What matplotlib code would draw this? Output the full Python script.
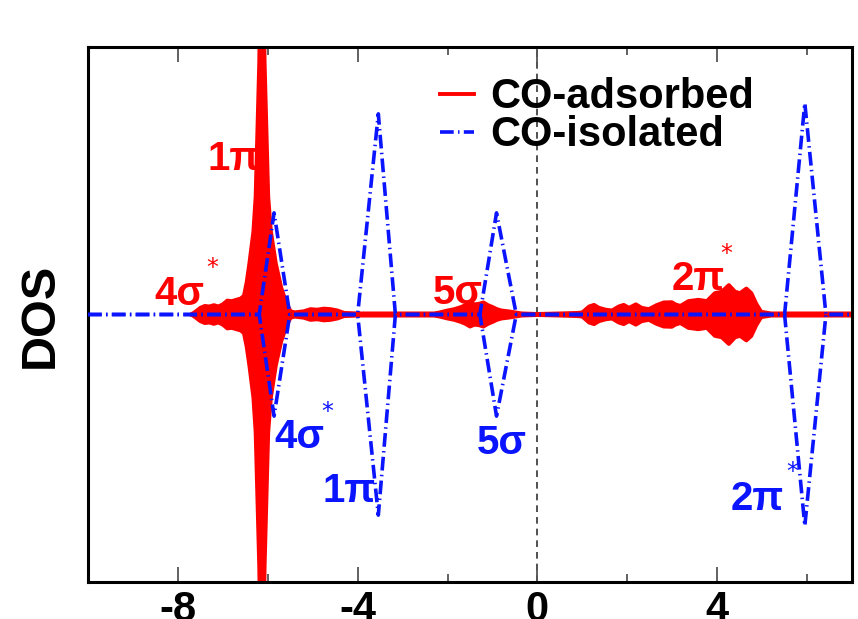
import matplotlib
matplotlib.use("Agg")
import matplotlib.pyplot as plt
import numpy as np

plt.rcParams["font.family"] = ["Liberation Sans", "DejaVu Sans"]
plt.rcParams["font.weight"] = "bold"
plt.rcParams["axes.unicode_minus"] = False

# CO adsorbed: projected DOS (spin up drawn above, spin down mirrored below)
e_ads = [-7.70, -7.60, -7.50, -7.40, -7.30, -7.20, -7.10, -7.00, -6.90,
         -6.80, -6.70, -6.60, -6.53, -6.47, -6.41, -6.32, -6.27, -6.23, -6.19,
         -6.13, -6.07, -6.03, -5.99, -5.93, -5.82, -5.70, -5.62, -5.55, -5.49,
         -5.40, -5.20, -5.05, -4.90, -4.75, -4.60, -4.45, -4.30, -4.00, -2.30,
         -2.17, -2.00, -1.85, -1.70, -1.60, -1.50, -1.40, -1.30, -1.20, -1.10,
         -1.00, -0.90, -0.80, -0.65, -0.50, -0.35, 0.00, 0.50, 0.90, 1.00,
         1.15, 1.26, 1.37, 1.52, 1.66, 1.81, 1.92, 2.04, 2.19, 2.32,
         2.48, 2.65, 2.81, 2.99, 3.07, 3.18, 3.36, 3.58, 3.77, 3.95,
         4.10, 4.26, 4.40, 4.51, 4.65, 4.76, 4.87, 4.98, 5.20, 7.00]
dos_ads = [0.000, 0.012, 0.025, 0.032, 0.030, 0.035, 0.030, 0.038, 0.052,
           0.050, 0.055, 0.060, 0.070, 0.120, 0.190, 0.310, 0.440, 0.690, 0.940,
           1.600, 0.940, 0.690, 0.440, 0.310, 0.190, 0.100, 0.060, 0.030, 0.012,
           0.008, 0.012, 0.020, 0.018, 0.022, 0.020, 0.015, 0.006, 0.004, 0.004,
           0.008, 0.015, 0.020, 0.028, 0.035, 0.045, 0.038, 0.040, 0.045, 0.035,
           0.028, 0.020, 0.015, 0.012, 0.008, 0.004, 0.002, 0.004, 0.006, 0.008,
           0.030, 0.036, 0.025, 0.018, 0.015, 0.030, 0.036, 0.025, 0.038, 0.025,
           0.020, 0.035, 0.045, 0.046, 0.038, 0.032, 0.050, 0.055, 0.050, 0.080,
           0.085, 0.110, 0.085, 0.080, 0.097, 0.080, 0.040, 0.010, 0.004, 0.004]

# CO isolated: molecular levels on a coarse energy grid
e_iso = [-10.0, -6.19, -5.86, -5.51, -4.00, -3.54, -3.16,
         -1.28, -0.91, -0.47, 5.50, 5.95, 6.42, 7.00]
dos_iso = [0.0, 0.0, 0.38, 0.0, 0.0, 0.75, 0.0,
           0.0, 0.38, 0.0, 0.0, 0.79, 0.0, 0.0]

# orbital labels: (text, x, y, star position or None)
labels_ads = [("1π", -7.35, 0.54, None),
              ("4σ", -8.52, 0.034, (-7.24, 0.172)),
              ("5σ", -2.32, 0.041, None),
              ("2π", 2.99, 0.09, (4.21, 0.228))]
labels_iso = [("4σ", -5.86, -0.50, (-4.68, -0.366)),
              ("1π", -4.78, -0.70, None),
              ("5σ", -1.35, -0.52, None),
              ("2π", 4.31, -0.73, (5.68, -0.59))]

e_ads = np.array(e_ads)
dos_ads = np.array(dos_ads)
e_iso = np.array(e_iso)
dos_iso = np.array(dos_iso)

fig = plt.figure(figsize=(8.58, 6.19), dpi=100)
ax = fig.add_axes([88 / 858, 37 / 619, 764 / 858, 535 / 619])

red = "#ff0000"
blue = "#0a14ff"

ax.fill_between(e_ads, -dos_ads, dos_ads, color=red, lw=0, zorder=2)
ax.plot(e_ads, dos_ads, color=red, lw=2.8, zorder=2, label="CO-adsorbed")
ax.plot(e_ads, -dos_ads, color=red, lw=2.8, zorder=2)

iso_style = (0, (3.8, 1.2, 0.4, 1.2))
ax.plot(e_iso, dos_iso, color=blue, lw=2.6, linestyle=iso_style, zorder=3,
        label="CO-isolated")
ax.plot(e_iso, -dos_iso, color=blue, lw=2.6, linestyle=iso_style, zorder=3)

# Fermi level
ax.axvline(0, color="#333333", lw=1.2, linestyle=(0, (4, 3)), zorder=1)


def orbital_labels(items, colour):
    for txt, x, y, star in items:
        ax.text(x, y, txt, color=colour, fontsize=29, fontweight="bold",
                ha="left", va="baseline", zorder=4)
        if star is not None:
            ax.text(star[0], star[1], "*", color=colour, fontsize=17,
                    fontweight="normal", family="DejaVu Sans",
                    ha="center", va="center", zorder=4)


orbital_labels(labels_ads, red)
orbital_labels(labels_iso, blue)

ax.set_xlim(-10, 7)
ax.set_ylim(-1.0, 1.0)
ax.set_xticks([-8, -4, 0, 4])
ax.set_xticks([-6, -2, 2, 6], minor=True)
ax.set_yticks([])
ax.tick_params(axis="x", which="major", direction="in", top=True, length=11,
               width=1.3, color="#555555", labelsize=30, pad=6)
ax.tick_params(axis="x", which="minor", direction="in", top=True, length=6,
               width=1.3, color="#555555")
for lab in ax.get_xticklabels():
    lab.set_fontweight("bold")
for sp in ax.spines.values():
    sp.set_linewidth(2.2)

fig.text(40 / 858, 1 - 315 / 619, "DOS", rotation=90, fontsize=35,
         fontweight="bold", ha="center", va="center")

ax.legend(loc="upper left", bbox_to_anchor=(0.461, 0.943), frameon=False,
          fontsize=30, handlelength=0.8, handletextpad=0.4,
          labelspacing=-0.05, borderpad=0, borderaxespad=0)

fig.savefig("out.png", dpi=100)
